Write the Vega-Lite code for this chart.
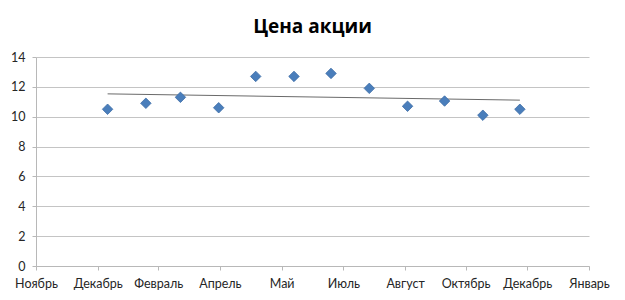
{
  "$schema": "https://vega.github.io/schema/vega-lite/v6.json",
  "autosize": {"type": "none"},
  "width": 553,
  "height": 209,
  "padding": {"left": 36, "top": 57, "right": 36, "bottom": 34},
  "background": "white",
  "title": {
    "text": "Цена акции",
    "font": "Open Sans",
    "fontSize": 19,
    "fontWeight": "bold",
    "color": "#000000",
    "anchor": "middle",
    "baseline": "alphabetic",
    "offset": -1
  },
  "config": {
    "view": {"stroke": null},
    "axis": {
      "labelFont": "Lato",
      "labelFontSize": 12.5,
      "labelColor": "#262626",
      "domainColor": "#b8b8b8",
      "tickColor": "#b8b8b8",
      "gridColor": "#c4c4c4",
      "tickSize": 4,
      "title": null
    }
  },
  "data": {
    "values": [
      {"date": "2010-01-01", "price": 10.5},
      {"date": "2010-02-01", "price": 10.9},
      {"date": "2010-03-01", "price": 11.3},
      {"date": "2010-04-01", "price": 10.6},
      {"date": "2010-05-01", "price": 12.7},
      {"date": "2010-06-01", "price": 12.7},
      {"date": "2010-07-01", "price": 12.9},
      {"date": "2010-08-01", "price": 11.9},
      {"date": "2010-09-01", "price": 10.7},
      {"date": "2010-10-01", "price": 11.05},
      {"date": "2010-11-01", "price": 10.1},
      {"date": "2010-12-01", "price": 10.5}
    ]
  },
  "encoding": {
    "x": {
      "field": "date",
      "type": "temporal",
      "scale": {
        "type": "utc",
        "domain": [
          {"year": 2009, "month": 11, "date": 4, "utc": true},
          {"year": 2011, "month": 1, "date": 26, "utc": true}
        ],
        "nice": false
      },
      "axis": {
        "grid": false,
        "values": [
          {"year": 2009, "month": 11, "date": 4, "utc": true},
          {"year": 2009, "month": 12, "date": 24, "utc": true},
          {"year": 2010, "month": 2, "date": 11, "utc": true},
          {"year": 2010, "month": 4, "date": 2, "utc": true},
          {"year": 2010, "month": 5, "date": 22, "utc": true},
          {"year": 2010, "month": 7, "date": 11, "utc": true},
          {"year": 2010, "month": 8, "date": 30, "utc": true},
          {"year": 2010, "month": 10, "date": 18, "utc": true},
          {"year": 2010, "month": 12, "date": 7, "utc": true},
          {"year": 2011, "month": 1, "date": 26, "utc": true}
        ],
        "labelExpr": "['Январь','Февраль','Март','Апрель','Май','Июнь','Июль','Август','Сентябрь','Октябрь','Ноябрь','Декабрь'][utcmonth(datum.value)]",
        "labelPadding": 7,
        "labelFlush": false,
        "labelOverlap": false
      }
    },
    "y": {
      "field": "price",
      "type": "quantitative",
      "scale": {"domain": [0, 14], "nice": false, "zero": true},
      "axis": {
        "values": [0, 2, 4, 6, 8, 10, 12, 14],
        "labelPadding": 7,
        "grid": true
      }
    }
  },
  "layer": [
    {
      "transform": [{"regression": "price", "on": "date"}],
      "mark": {"type": "line", "color": "#6a6a6a", "strokeWidth": 1}
    },
    {
      "mark": {
        "type": "point",
        "shape": "diamond",
        "filled": true,
        "size": 110,
        "fill": "#4a7ebb",
        "stroke": "#3c6ca6",
        "strokeWidth": 0.8,
        "opacity": 1
      }
    }
  ]
}
